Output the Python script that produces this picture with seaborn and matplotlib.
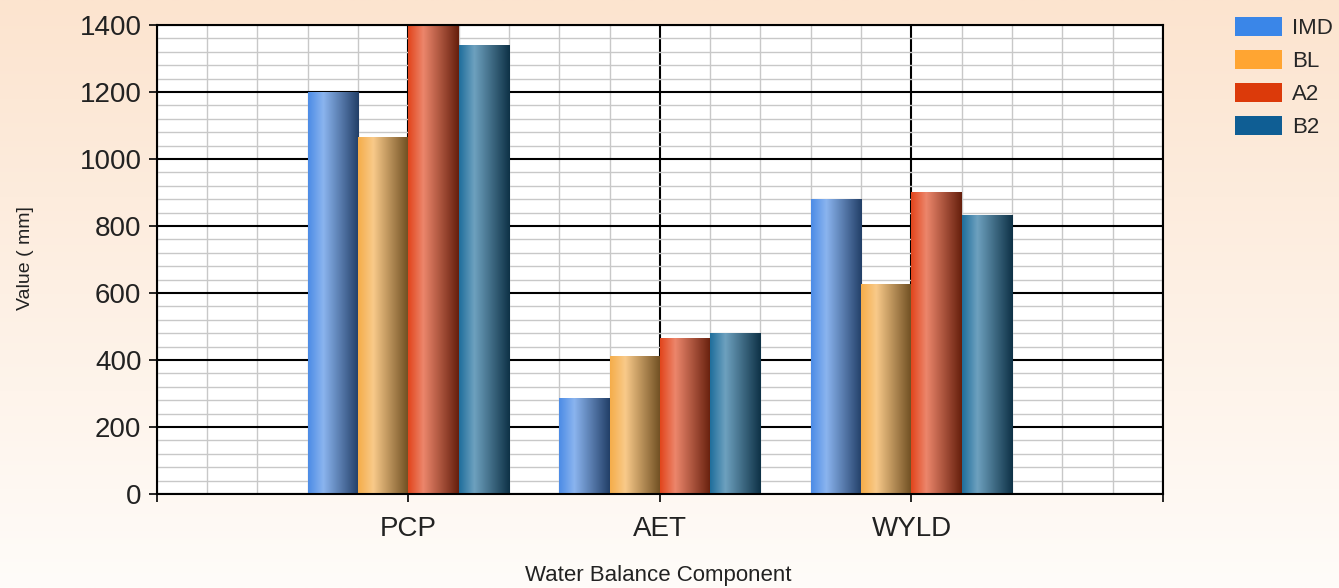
import numpy as np
import pandas as pd
import matplotlib
matplotlib.use("Agg")
import matplotlib.pyplot as plt
from matplotlib.ticker import MultipleLocator
from matplotlib.patches import Patch
from matplotlib.colors import to_rgb
import seaborn as sns

# data
components = ["PCP", "AET", "WYLD"]
scenarios = ["IMD", "BL", "A2", "B2"]
imd = [1200, 285, 880]
bl = [1065, 410, 625]
a2 = [1405, 465, 900]
b2 = [1340, 480, 830]

bar_colors = ["#4c8ce6", "#f5ad4a", "#e2451c", "#1f6e9c"]
legend_colors = ["#3a86e8", "#ffa532", "#dc3a0a", "#0f5e94"]

df = pd.DataFrame({
    "component": components * 4,
    "scenario": np.repeat(scenarios, 3),
    "value": imd + bl + a2 + b2,
})

sns.set_style("white")
plt.rcParams["font.family"] = ["Liberation Sans", "DejaVu Sans"]

fig = plt.figure(figsize=(13.39, 5.88), dpi=100)

# peach background fading to white
bg = fig.add_axes([0, 0, 1, 1], zorder=-10)
top = np.array(to_rgb("#fce4cf"))
bot = np.array(to_rgb("#fffcf9"))
t = np.linspace(0, 1, 200)[:, None]
grad_bg = top * (1 - t) + bot * t
bg.imshow(grad_bg[:, None, :].repeat(2, axis=1), aspect="auto", extent=[0, 1, 0, 1])
bg.axis("off")

ax = fig.add_axes([0.117, 0.160, 0.7516, 0.7975])
ax.set_facecolor("white")

sns.barplot(data=df, x="component", y="value", hue="scenario", order=components,
            hue_order=scenarios, palette=bar_colors, saturation=1, width=0.8,
            ax=ax, legend=False, edgecolor="none")

# cylinder-like shading on each bar
def shade(col):
    c = np.array(to_rgb(col))
    light = c + (1 - c) * 0.35
    dark = c * 0.45
    xs = np.linspace(0, 1, 100)
    pts = [0, 0.3, 1.0]
    rgb = np.stack([np.interp(xs, pts, [c[i], light[i], dark[i]]) for i in range(3)], axis=1)
    return rgb[None, :, :]

for cont, col in zip(ax.containers, bar_colors):
    g = shade(col)
    for bar in cont:
        x0, w, h = bar.get_x(), bar.get_width(), bar.get_height()
        bar.set_visible(False)
        ax.imshow(g, extent=[x0, x0 + w, 0, min(h, 1400)], aspect="auto",
                  zorder=2.5, interpolation="bilinear")

ax.set_xlim(-1, 3)
ax.set_ylim(0, 1400)
ax.set_aspect("auto")

ax.yaxis.set_major_locator(MultipleLocator(200))
ax.yaxis.set_minor_locator(MultipleLocator(40))
ax.set_xticks([-1, 0, 1, 2, 3])
ax.set_xticklabels(["", "PCP", "AET", "WYLD", ""])
ax.xaxis.set_minor_locator(MultipleLocator(0.2))

ax.set_axisbelow(True)
ax.grid(which="minor", color="#c8c8c8", lw=1.0)
ax.grid(which="major", color="black", lw=1.5)

for s in ax.spines.values():
    s.set_visible(True)
    s.set_color("black")
    s.set_linewidth(1.5)

ax.tick_params(which="major", direction="out", length=6, width=1.2, color="black",
               labelsize=20, labelcolor="#222222", left=True, bottom=True)
ax.tick_params(axis="y", pad=5)
ax.tick_params(axis="x", pad=10)
ax.tick_params(which="minor", length=0)

ax.set_xlabel("")
ax.set_ylabel("")
fig.text(0.4915, 1 - 575 / 588, "Water Balance Component", ha="center", va="center",
         fontsize=16, color="#222222")
fig.text(25 / 1339, 1 - 258 / 588, "Value ( mm]", ha="center", va="center",
         rotation=90, fontsize=14, color="#222222")

handles = [Patch(facecolor=c, edgecolor="none") for c in legend_colors]
fig.legend(handles, scenarios, loc="upper left", bbox_to_anchor=(1231 / 1339, 1 - 13 / 588),
           frameon=False, fontsize=16, handlelength=2.1, handleheight=0.9,
           labelspacing=0.5, handletextpad=0.45, borderpad=0.2, borderaxespad=0)

fig.savefig("out.png", dpi=100)
